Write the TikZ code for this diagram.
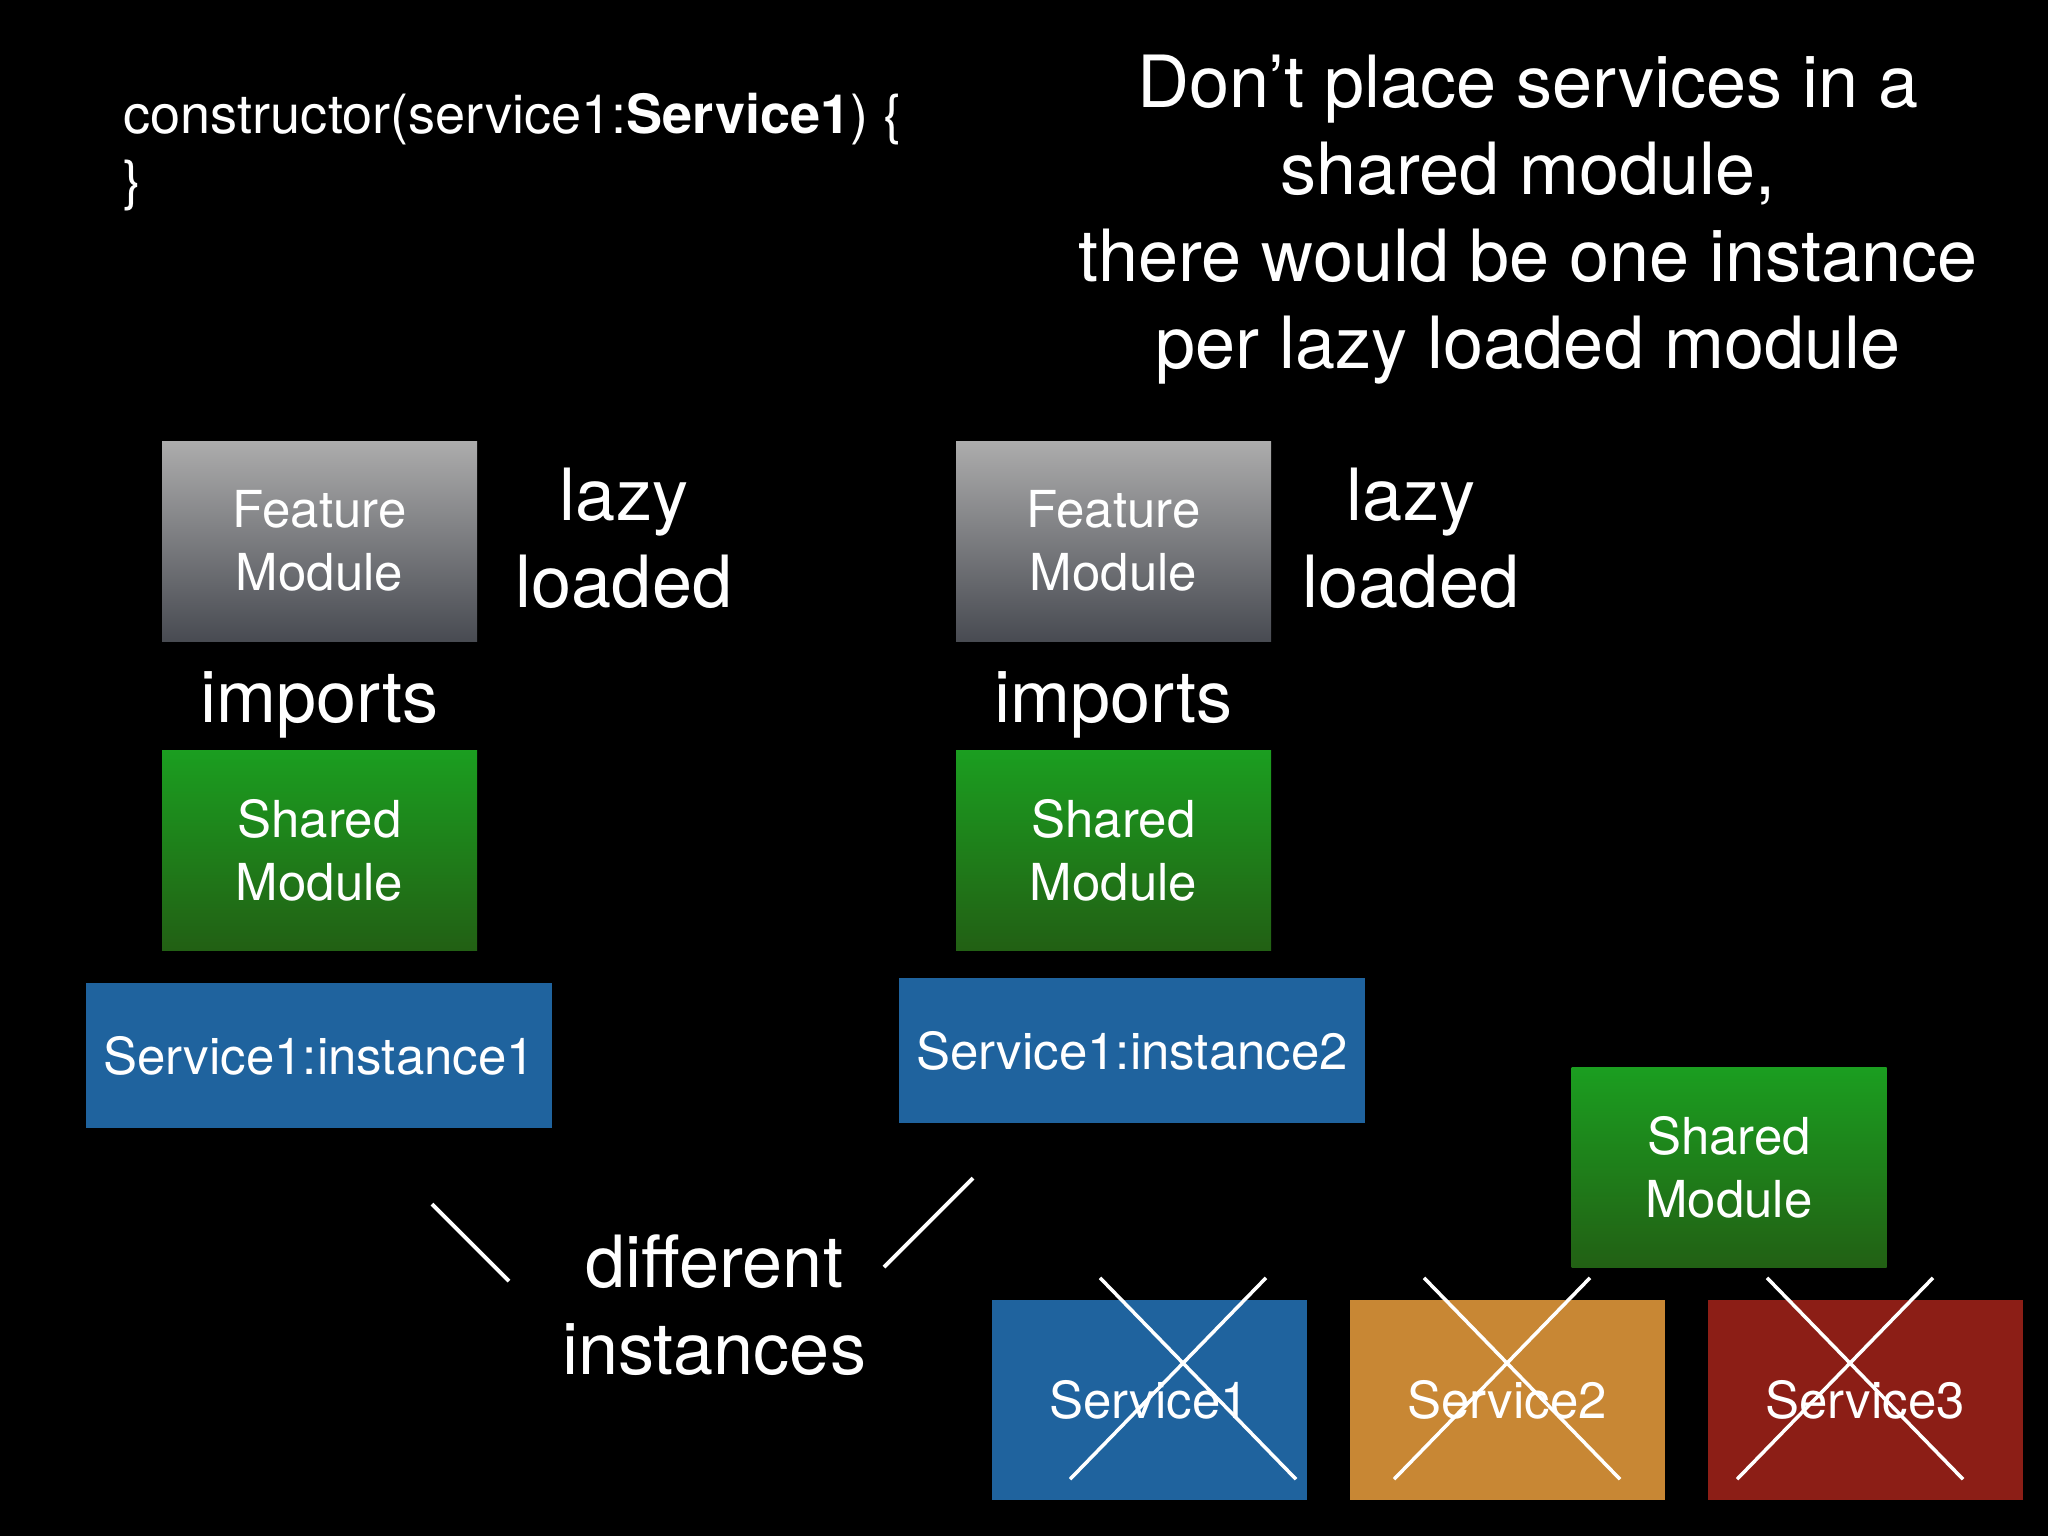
\documentclass[tikz,border=0pt]{standalone}
\usepackage{fontspec}
\setmainfont{TeX Gyre Heros}
\usetikzlibrary{calc}

\definecolor{slideblue}{RGB}{31,99,158}
\definecolor{slideorange}{RGB}{200,135,52}
\definecolor{slidered}{RGB}{140,30,22}
\definecolor{greentop}{RGB}{27,158,32}
\definecolor{greenbot}{RGB}{34,96,20}
\definecolor{graytop}{RGB}{172,172,172}
\definecolor{graybot}{RGB}{72,75,82}

\tikzset{
  bigtxt/.style={text=white,font=\fontsize{20.5}{24.75}\selectfont,align=center},
  boxtxt/.style={text=white,font=\fontsize{14.5}{18}\selectfont,align=center,inner sep=0pt},
  modbox/.style={boxtxt,rectangle,minimum width=31.5mm,minimum height=20mm},
  featbox/.style={modbox,top color=graytop,bottom color=graybot},
  sharedbox/.style={modbox,top color=greentop,bottom color=greenbot},
  instbox/.style={boxtxt,rectangle,fill=slideblue,minimum width=46.6mm,minimum height=14.5mm},
  crossline/.style={white,line width=1pt},
  tickline/.style={white,line width=1.1pt}
}

\begin{document}
\begin{tikzpicture}[x=0.1mm,y=-0.1mm]
  \fill[black] (0,0) rectangle (2048,1536);

  \node (code) at (123,199) [anchor=base west,text=white,align=left,inner sep=0pt,
    font=\fontsize{15.4}{18.5}\selectfont]
    {constructor(service1:\textbf{Service1}) \{\\\}};

  \node (title) at (1528,368) [bigtxt,anchor=base]
    {Don’t place services in a\\shared module,\\there would be one instance\\per lazy loaded module};

  % first lazy loaded module
  \node (feat1) at (319.5,541) [featbox] {Feature\\Module};
  \node (lazy1) at (624,607) [bigtxt,anchor=base] {lazy\\loaded};
  \node (imp1) at (319.5,722) [bigtxt,anchor=base] {imports};
  \node (shared1) at (319.5,850) [sharedbox] {Shared\\Module};
  \node (inst1) at (319,1055.5) [instbox] {Service1:instance1};

  % second lazy loaded module
  \node (feat2) at (1113.5,541) [featbox] {Feature\\Module};
  \node (lazy2) at (1411,607) [bigtxt,anchor=base] {lazy\\loaded};
  \node (imp2) at (1113.5,722) [bigtxt,anchor=base] {imports};
  \node (shared2) at (1113.5,850) [sharedbox] {Shared\\Module};
  \node (inst2) at (1132,1050.5) [instbox] {Service1:instance2};

  \node (diff) at (714,1374) [bigtxt,anchor=base] {different\\instances};
  \coordinate (tl1) at (432,1204);
  \coordinate (tl2) at (509,1281);
  \coordinate (tr1) at (973,1178);
  \coordinate (tr2) at (884,1267);
  \draw[tickline] (tl1) -- (tl2);
  \draw[tickline] (tr1) -- (tr2);

  % shared module with services
  \node (shared3) at (1729,1167.5) [sharedbox] {Shared\\Module};
  \node (svc1) at (1149,1399.5) [modbox,fill=slideblue] {Service1};
  \node (svc2) at (1507,1399.5) [modbox,fill=slideorange] {Service2};
  \node (svc3) at (1865,1399.5) [modbox,fill=slidered] {Service3};

  \draw[crossline] ($(svc1.north)+(-49,-21)$) -- ($(svc1.south)+(147,-21)$);
  \draw[crossline] ($(svc1.north)+(117,-21)$) -- ($(svc1.south)+(-79,-21)$);
  \draw[crossline] ($(svc2.north)+(-83,-21)$) -- ($(svc2.south)+(113,-21)$);
  \draw[crossline] ($(svc2.north)+(83,-21)$) -- ($(svc2.south)+(-113,-21)$);
  \draw[crossline] ($(svc3.north)+(-98,-21)$) -- ($(svc3.south)+(98,-21)$);
  \draw[crossline] ($(svc3.north)+(68,-21)$) -- ($(svc3.south)+(-128,-21)$);

\end{tikzpicture}
\end{document}
